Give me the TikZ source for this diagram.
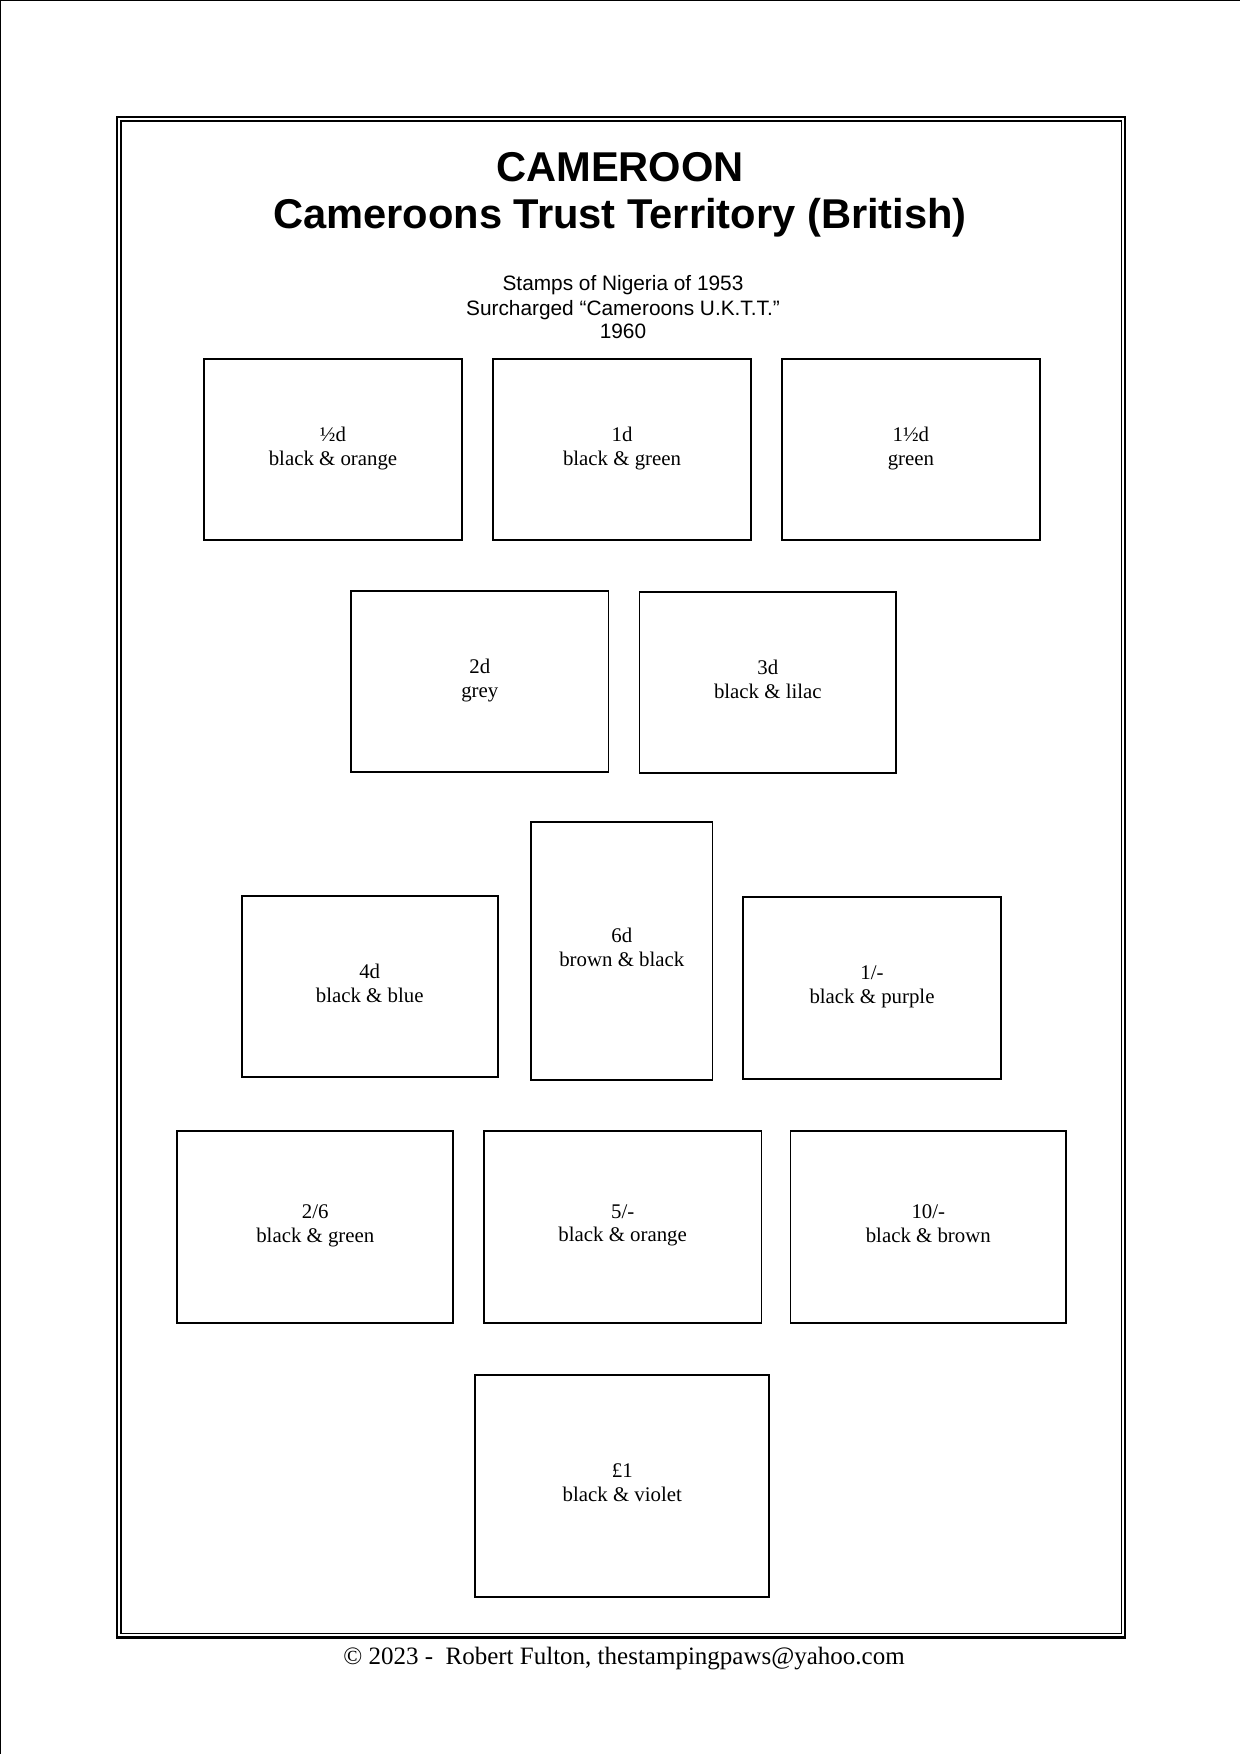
\documentclass[tikz,border=0pt]{standalone}
\usepackage{fontspec}
\setmainfont{Liberation Serif}
\newfontfamily\headfont{Liberation Sans}
\usepackage{tikz}
\usetikzlibrary{positioning}

\begin{document}
\begin{tikzpicture}[
    x=0.48pt, y=-0.48pt,
    stamp/.style 2 args={draw, line width=0.8pt, inner sep=0pt, align=center,
                minimum width=#1*0.48pt, minimum height=#2*0.48pt,
                font=\fontsize{10pt}{11.5pt}\selectfont,
                execute at begin node=\strut, execute at end node=\strut},
    heading/.style={anchor=base, inner sep=0pt,
                font=\headfont\bfseries\fontsize{20pt}{23pt}\selectfont},
    subhead/.style={anchor=base, inner sep=0pt,
                font=\headfont\fontsize{10pt}{11.5pt}\selectfont}
]
\useasboundingbox (0,0) rectangle (1240,1754);
% page edge and double frame
\draw[line width=0.6pt] (0,1754) -- (0,0) -- (1240,0);
\draw[line width=1pt] (117,116.7) rectangle (1125,1637.5);
\draw[line width=0.6pt] (121,121) rectangle (1121.3,1633.8);

% headings
\node[heading] (title) at (620,181.7) {CAMEROON};
\node[heading] (subtitle) at (620,228.3) {Cameroons Trust Territory (British)};
\node[subhead] (issue) at (623,290.7) {Stamps of Nigeria of 1953};
\node[subhead] (surch) at (623,315) {Surcharged “Cameroons U.K.T.T.”};
\node[subhead] (year) at (623,338.3) {1960};

% row 1
\node[stamp={258.6}{181.3}] (halfd) at (333,449.5) {½d\\black \& orange};
\node[stamp={258.6}{181.3}] (oned) at (622,449.5) {1d\\black \& green};
\node[stamp={258.3}{181.3}] (onehalfd) at (910.9,449.5) {1½d\\green};
% row 2
\node[stamp={257.5}{180.7}] (twod) at (479.8,681.5) {2d\\grey};
\node[stamp={256.5}{180.7}] (threed) at (767.8,682.5) {3d\\black \& lilac};
% row 3
\node[stamp={256}{180.7}] (fourd) at (369.7,986.5) {4d\\black \& blue};
\node[stamp={181.5}{258.3}] (sixd) at (621.8,951) {6d\\brown \& black};
\node[stamp={258}{181.4}, line width=1.1pt] (oneshilling) at (872,988) {1/-\\black \& purple};
% row 4
\node[stamp={276}{192}] (twosix) at (315.3,1226.7) {2/6\\black \& green};
\node[stamp={277.5}{192}] (fiveshilling) at (622.7,1226.7) {5/-\\black \& orange};
\node[stamp={275.5}{192}] (tenshilling) at (928.3,1226.7) {10/-\\black \& brown};
% row 5
\node[stamp={294}{222.3}] (pound) at (622.3,1486) {£1\\black \& violet};

% footer
\node[anchor=base, inner sep=0pt, font=\fontsize{12pt}{14pt}\selectfont] (footer) at (624,1664.3)
    {© 2023 -\ \ Robert Fulton, thestampingpaws@yahoo.com};
\end{tikzpicture}
\end{document}
